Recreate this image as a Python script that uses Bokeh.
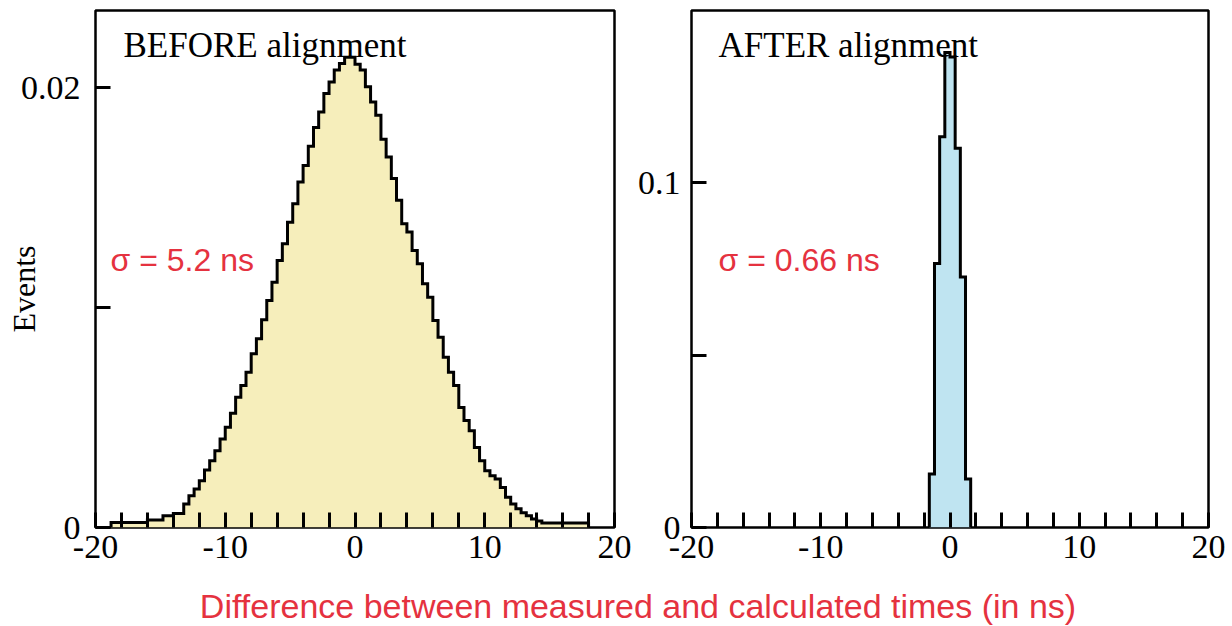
import numpy as np
from bokeh.plotting import figure
from bokeh.layouts import column, row
from bokeh.models import FixedTicker, CustomJSTickFormatter, Label, Range1d
from bokeh.embed import file_html
from bokeh.resources import INLINE

# ---------------- data ----------------
bin_width = 0.4  # ns

before_start = -18.8  # ns, left edge of first non-empty bin
before_values = [
    0.00023, 0.00023, 0.00023, 0.00023, 0.00023, 0.00023, 0.00023,
    0.00034, 0.00034, 0.00034,
    0.00053, 0.00053,
    0.00064, 0.00064,
    0.001065, 0.001443, 0.001748, 0.002126, 0.002613, 0.003036, 0.003491,
    0.004024, 0.004552, 0.005189, 0.005917, 0.006450, 0.007055, 0.007893,
    0.008575, 0.009440, 0.01032, 0.01115, 0.01214, 0.01290, 0.01388,
    0.01472, 0.01570, 0.01646, 0.01733, 0.01818, 0.01889, 0.01973,
    0.02025, 0.02079, 0.02109, 0.02137, 0.02137,
    0.02106, 0.02079, 0.02003, 0.01934, 0.01874, 0.01765, 0.01684,
    0.01586, 0.01487, 0.01381, 0.01343, 0.01259, 0.01199, 0.01108,
    0.01047, 0.00941, 0.00865, 0.00774, 0.00706, 0.00645, 0.00546,
    0.00486, 0.00440, 0.00364, 0.00303, 0.00258, 0.00235, 0.00220,
    0.00182, 0.00137, 0.00107, 0.00085, 0.00067, 0.00053, 0.00039,
    0.00030,
    0.00021, 0.00021, 0.00021, 0.00021, 0.00021, 0.00021, 0.00021,
    0.00021, 0.00021,
]

after_start = -1.6
after_values = [0.0155, 0.0766, 0.1134, 0.1378, 0.1365, 0.1100, 0.0727, 0.0141]

x_ticks = list(range(-20, 21, 2))
x_tick_labels = [-20, -10, 0, 10, 20]
before_y_ticks = [0, 0.01, 0.02]
before_y_labels = [0, 0.02]
after_y_ticks = [0, 0.05, 0.1]
after_y_labels = [0, 0.1]

before_title = "BEFORE alignment"
after_title = "AFTER alignment"
before_sigma = "σ = 5.2 ns"
after_sigma = "σ = 0.66 ns"
y_title = "Events"
x_title = "Difference between measured and calculated times (in ns)"

RED = "#e5323f"
SERIF = "Liberation Serif"
SANS = "Liberation Sans"


def label_formatter(vals):
    return CustomJSTickFormatter(
        args=dict(vals=vals),
        code="return vals.some(v => Math.abs(v - tick) < 1e-9) ? String(tick) : '';",
    )


def make_panel(values, start, ymax, yticks, ylabels, fill, width, bl, br,
               ystandoff):
    p = figure(
        width=width, height=577,
        x_range=Range1d(-20, 20), y_range=Range1d(0, ymax),
        output_backend="svg", toolbar_location=None,
        min_border_left=bl, min_border_right=br,
        min_border_top=10, min_border_bottom=50,
    )
    edges = start + bin_width * np.arange(len(values) + 1)
    xs = np.concatenate([[edges[0]], edges])
    ys = np.concatenate([[0.0], np.asarray(values, dtype=float), [0.0]])
    p.varea_step(x=xs, y1=np.zeros_like(ys), y2=ys, step_mode="after",
                 fill_color=fill)
    p.step(x=xs, y=ys, mode="after", line_color="black", line_width=3,
           line_join="miter")

    p.grid.visible = False
    p.outline_line_color = "black"
    p.outline_line_width = 2.5
    p.outline_line_alpha = 1.0
    p.background_fill_color = "white"
    p.border_fill_color = "white"

    for ax in (p.xaxis[0], p.yaxis[0]):
        ax.axis_line_color = None
        ax.major_tick_in = 15
        ax.major_tick_out = 0
        ax.major_tick_line_width = 3
        ax.major_tick_line_color = "black"
        ax.minor_tick_line_color = None
        ax.major_label_text_font = SERIF
        ax.major_label_text_font_size = "34px"
        ax.major_label_text_color = "black"

    p.xaxis.ticker = FixedTicker(ticks=x_ticks)
    p.xaxis.formatter = label_formatter(x_tick_labels)
    p.xaxis.major_label_standoff = 8
    p.yaxis.ticker = FixedTicker(ticks=yticks)
    p.yaxis.formatter = label_formatter(ylabels)
    p.yaxis.major_label_standoff = ystandoff
    return p


p1 = make_panel(before_values, before_start, 0.0235, before_y_ticks,
                before_y_labels, "#f6eebb", 634, 95, 20, 15)
p2 = make_panel(after_values, after_start, 0.15, after_y_ticks,
                after_y_labels, "#bfe4f1", 598, 57, 24, 11)

# "Events" as the left axis title, pulled in over the tick-label column;
# trailing no-break spaces move the word down to where the reference has it
p1.yaxis.axis_label = y_title + "\u00a0" * 5
p1.yaxis.axis_label_text_font = SERIF
p1.yaxis.axis_label_text_font_size = "32px"
p1.yaxis.axis_label_text_font_style = "normal"
p1.yaxis.axis_label_text_color = "black"
p1.yaxis.axis_label_standoff = -24

p1.add_layout(Label(x=-17.84, y=0.02191, text=before_title,
                    text_font=SERIF, text_font_size="35px",
                    text_baseline="alphabetic", text_color="black"))
p1.add_layout(Label(x=-18.84, y=0.01214, text=before_sigma,
                    text_font=SANS, text_font_size="32px",
                    text_baseline="alphabetic", text_color=RED))

p2.add_layout(Label(x=-17.91, y=0.13985, text=after_title,
                    text_font=SERIF, text_font_size="35px",
                    text_baseline="alphabetic", text_color="black"))
p2.add_layout(Label(x=-17.91, y=0.07747, text=after_sigma,
                    text_font=SANS, text_font_size="32px",
                    text_baseline="alphabetic", text_color=RED))

p3 = figure(width=1232, height=49, x_range=Range1d(0, 1232),
            y_range=Range1d(0, 49), output_backend="svg",
            toolbar_location=None, x_axis_location=None, y_axis_location=None,
            min_border=0)
p3.grid.visible = False
p3.outline_line_color = None
p3.add_layout(Label(x=637.5, y=21, text=x_title, text_font=SANS,
                    text_font_size="34px", text_align="center",
                    text_baseline="alphabetic", text_color=RED))

layout = column(row(p1, p2, spacing=0), p3, spacing=0)
open("out.html", "w").write(file_html(layout, INLINE))
